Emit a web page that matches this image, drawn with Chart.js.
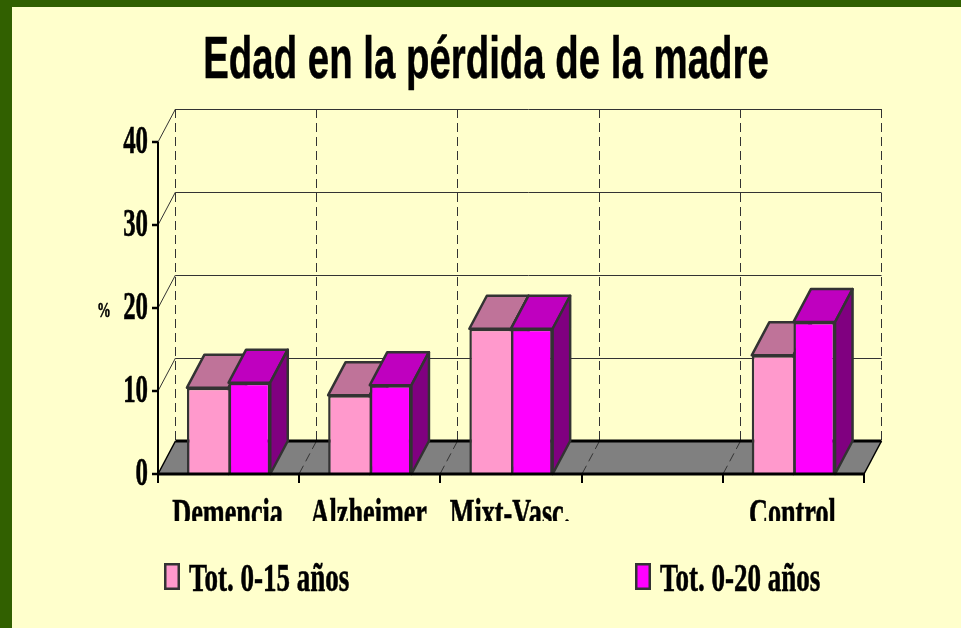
<!DOCTYPE html>
<html>
<head>
<meta charset="utf-8">
<title>Edad en la pérdida de la madre</title>
<script src="https://cdn.jsdelivr.net/npm/chart.js@4"></script>
<style>
  html, body { margin: 0; padding: 0; background: #ffffcc; overflow: hidden; }
  canvas { display: block; }
</style>
</head>
<body>
<canvas id="chart" width="961" height="628"></canvas>
<script>
const chartTitle = 'Edad en la pérdida de la madre';
const yAxisName = '%';
const categories = ['Demencia', 'Alzheimer', 'Mixt-Vasc.', '', 'Control'];
const seriesNames = ['Tot. 0-15 años', 'Tot. 0-20 años'];
const tot015 = [10.4, 9.5, 17.5, null, 14.3];
const tot020 = [11.0, 10.7, 17.5, null, 18.3];
const yTicks = [0, 10, 20, 30, 40];

const frontColors = ['#ff99cc', '#ff00ff'];
const topColors = ['#bf7399', '#bf00bf'];
const sideColors = ['#804d66', '#800080'];
const edge = '#333333';
const depthX = 17.5, depthY = 33;

// condensed text: canvas has no font-stretch we can rely on, so squeeze it by hand
function squeezed(ctx, text, x, y, font, sx, align, heavy) {
  ctx.save();
  ctx.font = font;
  ctx.fillStyle = '#000';
  ctx.textAlign = align || 'left';
  ctx.textBaseline = 'alphabetic';
  ctx.translate(x, y);
  ctx.scale(sx, 1);
  ctx.fillText(text, 0, 0);
  if (heavy) {
    ctx.strokeStyle = '#000';
    ctx.lineWidth = heavy;
    ctx.strokeText(text, 0, 0);
  }
  ctx.restore();
}

function line(ctx, x1, y1, x2, y2, color, width, dash) {
  ctx.save();
  ctx.strokeStyle = color;
  ctx.lineWidth = width;
  ctx.setLineDash(dash || []);
  ctx.beginPath();
  ctx.moveTo(x1, y1);
  ctx.lineTo(x2, y2);
  ctx.stroke();
  ctx.restore();
}

function poly(ctx, pts, fill) {
  ctx.save();
  ctx.fillStyle = fill;
  ctx.strokeStyle = edge;
  ctx.lineWidth = 2.5;
  ctx.lineJoin = 'round';
  ctx.beginPath();
  pts.forEach((p, i) => i ? ctx.lineTo(p[0], p[1]) : ctx.moveTo(p[0], p[1]));
  ctx.closePath();
  ctx.fill();
  ctx.stroke();
  ctx.restore();
}

const box3d = {
  id: 'box3d',
  beforeDraw(chart) {
    const ctx = chart.ctx;
    ctx.save();
    ctx.fillStyle = '#316000';
    ctx.fillRect(0, 0, chart.width, chart.height);
    ctx.fillStyle = '#ffffcc';
    ctx.fillRect(12, 7, chart.width - 12, chart.height - 7);
    ctx.restore();
    squeezed(ctx, chartTitle, 486, 78, 'bold 60px "Liberation Sans"', 0.64, 'center', 0.5);
  },
  beforeDatasetsDraw(chart) {
    const ctx = chart.ctx;
    const { left, right, top, bottom } = chart.chartArea;
    const y = chart.scales.y;

    // floor
    ctx.save();
    ctx.fillStyle = '#808080';
    ctx.beginPath();
    ctx.moveTo(left, bottom);
    ctx.lineTo(left + depthX, bottom - depthY);
    ctx.lineTo(right + depthX, bottom - depthY);
    ctx.lineTo(right, bottom);
    ctx.closePath();
    ctx.fill();
    ctx.restore();

    // back wall and left wall lines
    yTicks.forEach(v => {
      const py = Math.round(y.getPixelForValue(v));
      if (v === 0) return;
      line(ctx, left + depthX, py - depthY + 0.5, right + depthX, py - depthY + 0.5, edge, 1);
      line(ctx, left, py, left + depthX, py - depthY, edge, 1);
    });

    // category dividers, up the wall and across the floor
    for (let i = 0; i <= categories.length; i++) {
      const px = Math.round(left + (right - left) * i / categories.length);
      line(ctx, px + depthX, top - depthY, px + depthX, bottom - depthY, edge, 1, [9, 5]);
      if (i > 0 && i < categories.length) line(ctx, px + depthX, bottom - depthY, px, bottom, edge, 1, [9, 5]);
    }
    line(ctx, left, bottom, left + depthX, bottom - depthY, '#000', 1.5);
    line(ctx, left + depthX, bottom - depthY, right + depthX, bottom - depthY, '#000', 3);
    line(ctx, right, bottom, right + depthX, bottom - depthY, '#000', 1.5);
  },
  // grouped bars have to paint left to right, the library goes the other way
  beforeDatasetDraw() {
    return false;
  },
  afterDatasetsDraw(chart) {
    const ctx = chart.ctx;
    const { left, right, top, bottom } = chart.chartArea;
    const x = chart.scales.x, y = chart.scales.y;

    chart.data.datasets.forEach((ds, i) => {
      chart.getDatasetMeta(i).data.forEach((bar, j) => {
        if (ds.data[j] === null) return;
        const l = bar.x - bar.width / 2, r = bar.x + bar.width / 2;
        poly(ctx, [[l, bar.y], [l + depthX, bar.y - depthY], [r + depthX, bar.y - depthY], [r, bar.y]], topColors[i]);
        poly(ctx, [[r, bar.y], [r + depthX, bar.y - depthY], [r + depthX, bar.base - depthY], [r, bar.base]], sideColors[i]);
        bar.draw(ctx);
      });
    });

    // axes and tick marks
    line(ctx, left, top, left, bottom + 1, '#000', 2);
    line(ctx, left - 1, bottom, right + 1, bottom, '#000', 3);
    yTicks.forEach(v => {
      const py = Math.round(y.getPixelForValue(v));
      line(ctx, left - 6, py, left, py, '#000', 2.5);
      squeezed(ctx, String(v), left - 10, py + 11, 'bold 40px "Liberation Serif"', 0.62, 'right', 0.6);
    });
    for (let i = 0; i <= categories.length; i++) {
      const px = Math.round(left + (right - left) * i / categories.length);
      line(ctx, px, bottom, px, bottom + 9, '#000', 2);
    }
    squeezed(ctx, yAxisName, 104, 317, 'bold 21px "Liberation Serif"', 0.66, 'center', 0.5);

    // the reference cuts the category names off along the bottom
    ctx.save();
    ctx.beginPath();
    ctx.rect(0, 0, chart.width, 521);
    ctx.clip();
    categories.forEach((name, i) => {
      if (name) squeezed(ctx, name, x.getPixelForValue(i) - 1, 526, 'bold 40px "Liberation Serif"', 0.655, 'center', 0.6);
    });
    ctx.restore();

    // legend
    const legendX = [164, 635];
    seriesNames.forEach((name, i) => {
      ctx.save();
      ctx.fillStyle = edge;
      ctx.fillRect(legendX[i], 563, 16, 27);
      ctx.fillStyle = frontColors[i];
      ctx.fillRect(legendX[i] + 2.5, 565.5, 11, 22);
      ctx.restore();
      squeezed(ctx, name, legendX[i] + 25, 591, 'bold 40px "Liberation Serif"', 0.675, 'left', 0.6);
    });
  }
};

new Chart(document.getElementById('chart'), {
  type: 'bar',
  data: {
    labels: categories,
    datasets: [
      // no right border on the first series, the second one's left edge is the divider
      { label: seriesNames[0], data: tot015, backgroundColor: frontColors[0], borderColor: edge, borderWidth: { top: 2.5, left: 2.5, right: 0, bottom: 0 } },
      { label: seriesNames[1], data: tot020, backgroundColor: frontColors[1], borderColor: edge, borderWidth: { top: 2.5, left: 2.5, right: 2.5, bottom: 0 } }
    ]
  },
  options: {
    responsive: false,
    animation: false,
    layout: { padding: { left: 158, right: 97, top: 142, bottom: 154 } },
    datasets: { bar: { categoryPercentage: 0.59, barPercentage: 1 } },
    plugins: { legend: { display: false }, tooltip: { enabled: false } },
    scales: {
      x: { grid: { display: false, drawTicks: false }, border: { display: false }, ticks: { display: false } },
      y: {
        min: 0, max: 40,
        afterBuildTicks: axis => { axis.ticks = yTicks.map(value => ({ value })); },
        grid: { display: false, drawTicks: false }, border: { display: false }, ticks: { display: false }
      }
    }
  },
  plugins: [box3d]
});
</script>
</body>
</html>
